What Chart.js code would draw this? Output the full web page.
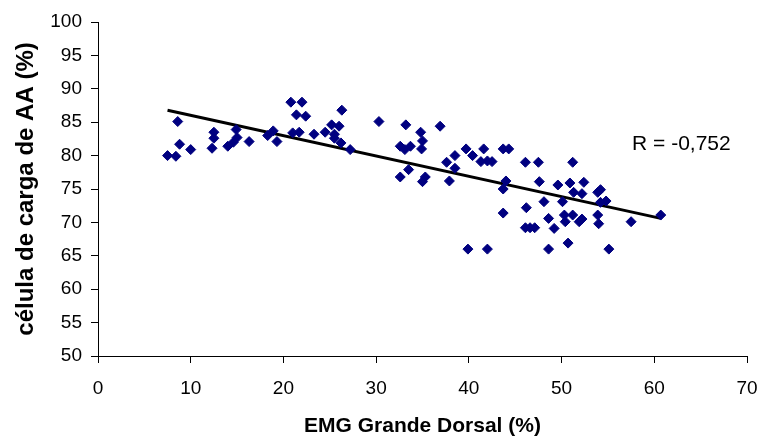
<!DOCTYPE html>
<html>
<head>
<meta charset="utf-8">
<script src="https://cdn.jsdelivr.net/npm/chart.js@4.4.1/dist/chart.umd.min.js"></script>
<style>
html,body{margin:0;padding:0;background:#fff;}
#wrap{width:758px;height:437px;position:relative;}
</style>
</head>
<body>
<div id="wrap"><canvas id="c" width="758" height="437"></canvas></div>
<script>
// EMG Grande Dorsal (%)
const emgX = [7.5,8.4,8.6,8.8,10.0,12.5,12.5,12.3,14.0,14.6,14.9,15.0,16.3,18.3,18.9,19.3,
  20.8,22.0,21.4,22.4,21.0,21.7,23.3,24.5,25.2,26.0,25.5,25.5,26.3,26.2,27.2,
  30.3,33.2,32.6,33.1,33.7,34.8,35.0,34.9,36.9,32.6,33.5,35.0,35.3,
  37.6,38.5,38.5,37.9,39.7,40.4,41.3,41.6,42.0,42.5,39.9,42.0,
  43.7,44.3,44.0,43.7,43.7,
  46.1,47.5,51.2,47.6,49.6,50.9,52.4,51.3,52.2,53.9,54.2,54.2,54.8,48.1,50.1,46.2,
  48.6,50.3,51.2,50.4,51.9,52.2,53.9,54.0,49.2,46.1,46.6,47.1,57.5,60.7,
  50.7,48.6,55.1];
// célula de carga de AA (%)
const cargaY = [80,79.9,85.1,81.7,80.9,83.5,82.6,81.1,81.4,82.0,83.9,82.7,82.1,83.0,83.7,82.1,
  88,88,86.1,85.9,83.4,83.5,83.2,83.5,84.6,84.4,83.2,82.6,86.8,81.9,80.9,
  85.1,84.6,81.4,80.9,81.4,83.5,82.2,81.0,84.4,76.8,77.9,76.1,76.8,
  79,80,78.1,76.2,81,80,79.1,81,79.2,79.1,66,66,
  81,81,76.2,75,71.4,
  79,79,79,76.1,75.6,75.9,76,74.5,74.3,74.5,74.9,73,73.2,73.1,73.1,72.2,
  70.6,71.1,71.1,70.1,70.1,70.5,71.1,69.8,69.1,69.2,69.2,69.2,70.1,71.1,
  66.9,66,66];
// trend line endpoints
const trendX = [7.5, 60.7];
const trendY = [86.8, 70.6];
const xTicks = [0,10,20,30,40,50,60,70];
const yTicks = [50,55,60,65,70,75,80,85,90,95,100];
const rLabel = 'R = -0,752';
const rPos = [57.6, 81.66];
const xTitle = 'EMG Grande Dorsal (%)';
const yTitle = 'célula de carga de AA (%)';

const points = emgX.map((x,i)=>({x:x, y:cargaY[i]}));
const trend = trendX.map((x,i)=>({x:x, y:trendY[i]}));

const FONT = 'Arial, "Liberation Sans", sans-serif';

const rPlugin = {
  id:'rlabel',
  afterDatasetsDraw(chart){
    const ctx = chart.ctx;
    const xs = chart.scales.x, ys = chart.scales.y;
    ctx.save();
    ctx.font = '21px ' + FONT;
    ctx.fillStyle = '#000';
    ctx.textAlign = 'left';
    ctx.textBaseline = 'middle';
    ctx.fillText(rLabel, xs.getPixelForValue(rPos[0]), ys.getPixelForValue(rPos[1]));
    ctx.restore();
  }
};

new Chart(document.getElementById('c'), {
  type:'scatter',
  data:{
    datasets:[
      {
        type:'line',
        data:trend,
        borderColor:'#000',
        borderWidth:3,
        pointRadius:0,
        fill:false,
        order:2
      },
      {
        data:points,
        pointStyle:'rectRot',
        pointRadius:5,
        pointBackgroundColor:'#000080',
        pointBorderColor:'#000080',
        pointBorderWidth:1,
        order:1
      }
    ]
  },
  options:{
    responsive:false,
    animation:false,
    layout:{padding:{top:22,right:0,left:0,bottom:0}},
    plugins:{legend:{display:false},tooltip:{enabled:false}},
    scales:{
      x:{
        type:'linear',
        min:0,max:70,
        afterBuildTicks(s){ s.ticks = xTicks.map(v=>({value:v})); },
        afterFit(s){ s.height = 81; s.paddingRight = 11; },
        grid:{drawOnChartArea:false,drawTicks:true,tickLength:7,color:'#000',tickColor:'#000'},
        border:{color:'#000',width:1},
        ticks:{color:'#000',font:{family:FONT,size:19},padding:14,maxRotation:0},
        title:{display:true,text:xTitle,color:'#000',font:{family:FONT,size:21,weight:'bold',lineHeight:1.0},padding:{top:0,bottom:0}}
      },
      y:{
        type:'linear',
        min:50,max:100,
        afterBuildTicks(s){ s.ticks = yTicks.map(v=>({value:v})); },
        afterFit(s){ s.width = 98; },
        grid:{drawOnChartArea:false,drawTicks:true,tickLength:7,color:'#000',tickColor:'#000'},
        border:{color:'#000',width:1},
        ticks:{color:'#000',font:{family:FONT,size:19},padding:9},
        title:{display:true,text:yTitle,color:'#000',font:{family:FONT,size:24,weight:'bold',lineHeight:1.2},padding:{top:12,bottom:0}}
      }
    }
  },
  plugins:[rPlugin]
});
</script>
</body>
</html>
